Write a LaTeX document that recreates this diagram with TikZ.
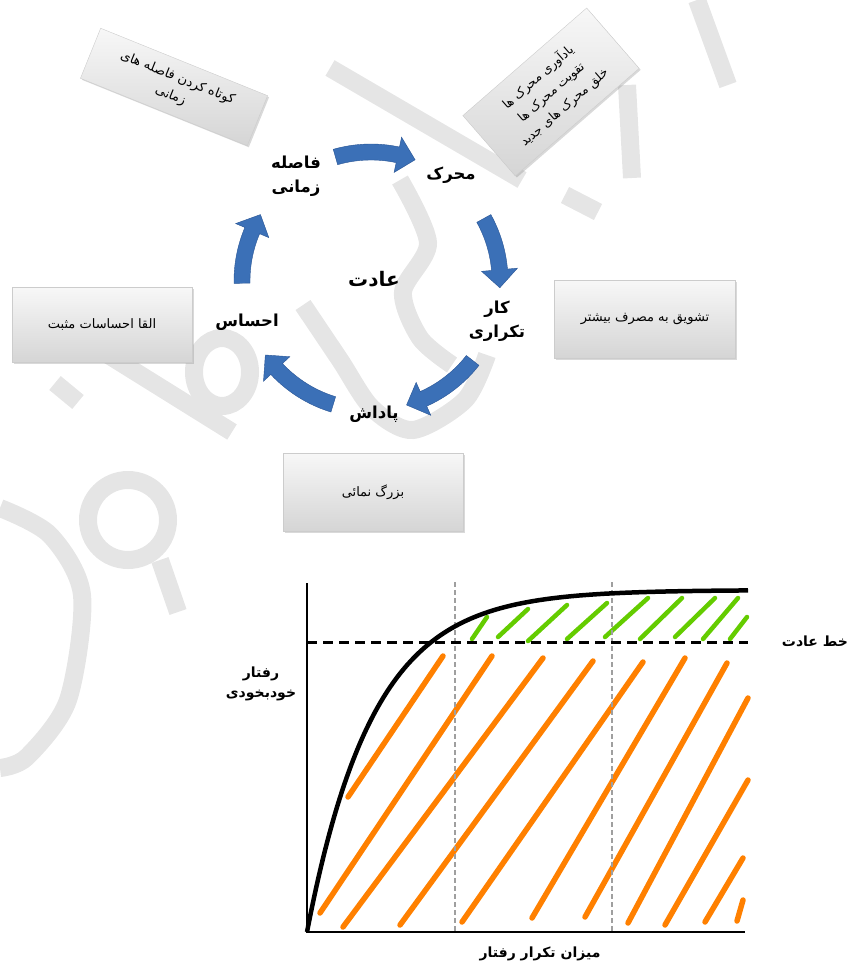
\documentclass[tikz,border=0pt]{standalone}
\usepackage{fontspec}
\usetikzlibrary{calc,shadows}
\TeXXeTstate=1
\newfontfamily\arf[Script=Arabic]{DejaVu Sans}
\newcommand\faR[1]{\beginR #1\endR}
\definecolor{arrowblue}{RGB}{59,112,183}
\definecolor{arrowedge}{RGB}{40,84,148}
\definecolor{strokeorange}{RGB}{255,128,0}
\definecolor{strokegreen}{RGB}{100,204,0}
\definecolor{wmark}{RGB}{229,229,229}
\begin{document}
\begin{tikzpicture}[x=1pt,y=1pt,
  greybox/.style={draw=gray!40, line width=0.4pt, top color=gray!6, bottom color=gray!33,
    drop shadow={opacity=0.3,shadow xshift=1.5pt,shadow yshift=-1.5pt},
    font=\arf\fontsize{13}{19}\selectfont, align=center, inner sep=2pt},
  cyclelabel/.style={font=\arf\bfseries\fontsize{16.5}{24}\selectfont, align=center, inner sep=1pt},
  graphlabel/.style={font=\arf\bfseries\fontsize{14}{20}\selectfont, align=center, inner sep=1pt},
  orangeline/.style={draw=strokeorange, line width=5.5pt, line cap=round},
  greenline/.style={draw=strokegreen, line width=4.5pt, line cap=round},
  gridline/.style={draw=gray!75, line width=1.4pt, dash pattern=on 5pt off 3pt},
  habitline/.style={draw=black, line width=3pt, dash pattern=on 10pt off 6pt},
  axisline/.style={draw=black, line width=2.2pt},
  curveline/.style={draw=black, line width=4.5pt},
  watermark/.style={draw=wmark, line width=18pt, line cap=butt}
]
\useasboundingbox (0,0) rectangle (848,-964);

% ---------------- watermark (light grey strokes) ----------------
\draw[watermark] (330,-68) -- (522,-180);
\draw[watermark] plot[smooth] coordinates {(400,-180) (428,-243) (403,-292) (420,-338) (452,-365)};
\draw[watermark] plot[smooth] coordinates {(303,-305) (340,-360) (372,-408) (413,-430) (465,-400) (487,-355)};
\draw[watermark] (49,-318) -- (232,-432);
\draw[watermark] (222,-372) ellipse[x radius=28, y radius=34];
\draw[watermark] (55,-383) -- (78,-402);
\draw[watermark] (128,-520) circle[radius=40];
\draw[watermark] (160,-560) -- (178,-612);
\draw[watermark] plot[smooth] coordinates {(0,-508) (50,-535) (82,-595) (68,-700) (27,-757) (0,-768)};
\draw[watermark] (697,0) -- (728,-85);
\draw[watermark] (627,-85) -- (632,-178);
\draw[watermark] (565,-195) -- (598,-212);

% ---------------- cycle ----------------
\coordinate (C) at (371,-281);
\newcommand\cyclearrow[3]{%
  \fill[arrowblue, draw=arrowedge, line width=0.4pt]
    ($(C)+(#1:137)$) arc[start angle=#1, end angle=#2, radius=137]
    -- ($(C)+(#2:147)$) -- ($(C)+(#3:129)$) -- ($(C)+(#2:111)$)
    -- ($(C)+(#2:121)$) arc[start angle=#2, end angle=#1, radius=121] -- cycle;}
\cyclearrow{106}{78}{70}
\cyclearrow{29}{5}{-3}
\cyclearrow{-38}{-66}{-74}
\cyclearrow{-107}{-137}{-145}
\cyclearrow{181}{157}{149}

\node[cyclelabel] (gap) at (296,-176) {\faR{فاصله}\\ \faR{زمانی}};
\node[cyclelabel] (cue) at (451,-175) {\faR{محرک}};
\node[cyclelabel] (routine) at (497,-321) {\faR{کار}\\ \faR{تکراری}};
\node[cyclelabel] (reward) at (374,-414) {\faR{پاداش}};
\node[cyclelabel] (feeling) at (247,-322) {\faR{احساس}};
\node[cyclelabel, font=\arf\bfseries\fontsize{20}{24}\selectfont] (habit) at (374,-279) {\faR{عادت}};

% boxes
\node[greybox, minimum width=180pt, minimum height=54pt, rotate=-22] (boxgap) at (174,-87)
  {\faR{کوتاه کردن فاصله های}\\ \faR{زمانی}};
\node[greybox, minimum width=164pt, minimum height=80pt, rotate=41,
  font=\arf\fontsize{12.5}{20}\selectfont] (boxcue) at (551,-92)
  {\faR{یادآوری محرک ها}\\ \faR{تقویت محرک ها}\\ \faR{خلق محرک های جدید}};
\node[greybox, minimum width=180pt, minimum height=75pt] (boxfeel) at (102,-325) {\faR{القا احساسات مثبت}};
\node[greybox, minimum width=181pt, minimum height=78pt] (boxroutine) at (645,-319) {\faR{تشویق به مصرف بیشتر}};
\node[greybox, minimum width=180pt, minimum height=78pt] (boxreward) at (373,-492) {\faR{بزرگ نمائی}};

% ---------------- graph ----------------
\coordinate (O) at (307,-932);
\coordinate (ytop) at (307,-583);
\coordinate (xend) at (745,-932);
\coordinate (hl) at (307,-642);
\coordinate (hr) at (748,-642);
\coordinate (g1t) at (455,-582); \coordinate (g1b) at (455,-932);
\coordinate (g2t) at (612,-582); \coordinate (g2b) at (612,-932);

% orange hatching
\foreach \ax/\ay/\bx/\by in {348/797/443/656, 320/913/492/656, 343/927/543/658, 400/925/593/661,
  462/922/643/662, 532/918/685/658, 585/917/727/663, 628/923/748/698, 665/925/748/780,
  705/922/743/858, 737/921/743/900}
  \draw[orangeline] (\ax,-\ay) -- (\bx,-\by);
% green hatching
\foreach \ax/\ay/\bx/\by in {472/639/487/617, 498/637/528/609, 528/641/567/605, 567/639/607/603,
  605/637/648/598, 640/639/682/598, 675/637/715/598, 703/639/738/598, 730/639/747/617}
  \draw[greenline] (\ax,-\ay) -- (\bx,-\by);

\draw[gridline] (g1t) -- (g1b);
\draw[gridline] (g2t) -- (g2b);
\draw[habitline] (hl) -- (hr);
\draw[curveline] plot[domain=0:441, samples=120, smooth] ({307+\x},{-932+342*(1-exp(-\x/66))});
\draw[axisline] (ytop) -- (O) -- (xend);

\node[graphlabel] (ylab) at (261,-684) {\faR{رفتار}\\ \faR{خودبخودی}};
\node[graphlabel] (hlab) at (815,-641) {\faR{خط عادت}};
\node[graphlabel] (xlab) at (540,-954) {\faR{میزان تکرار رفتار}};
\end{tikzpicture}
\end{document}
